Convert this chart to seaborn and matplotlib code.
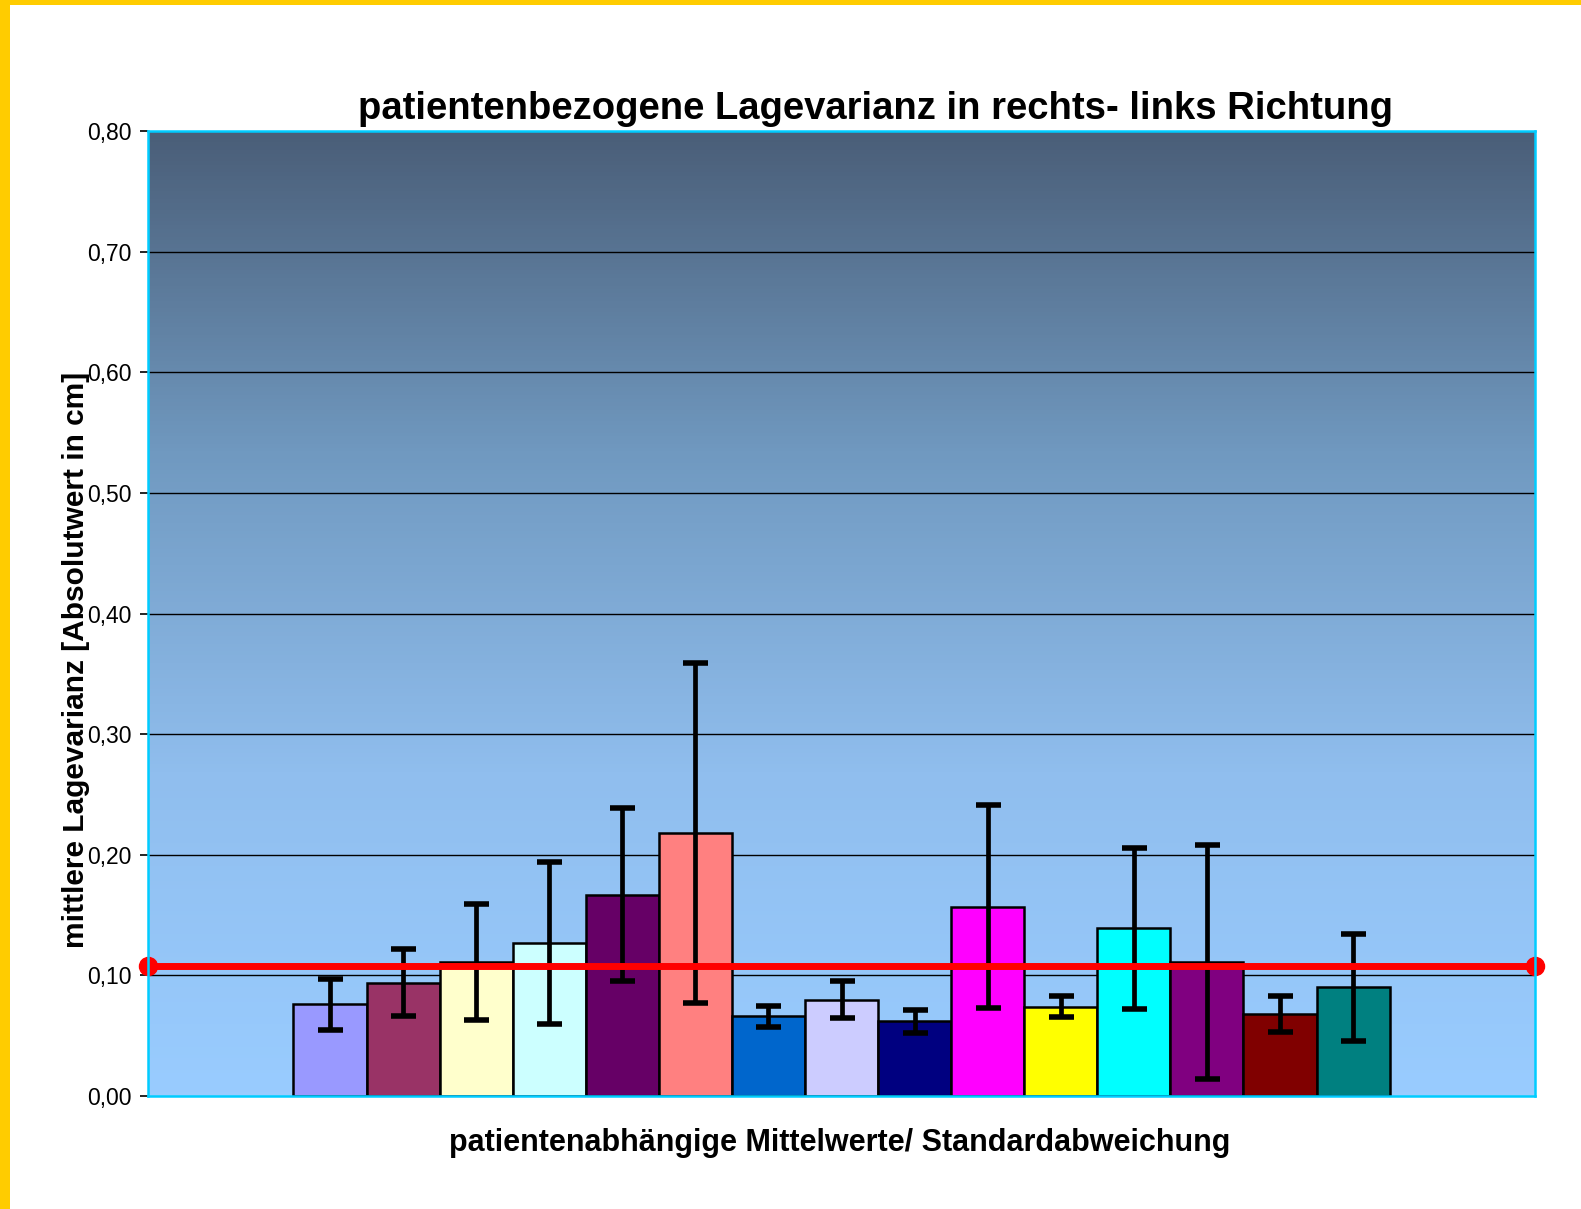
import numpy as np
import pandas as pd
import matplotlib
matplotlib.use("Agg")
import matplotlib.pyplot as plt
from matplotlib.colors import LinearSegmentedColormap
from matplotlib.patches import Rectangle
import seaborn as sns

# ---- data ----
patients = [f"P{i}" for i in range(1, 16)]
means = [0.076, 0.094, 0.111, 0.127, 0.167, 0.218, 0.066, 0.080, 0.062,
         0.157, 0.074, 0.139, 0.111, 0.068, 0.090]
sds = [0.021, 0.028, 0.048, 0.067, 0.072, 0.141, 0.009, 0.015, 0.0095,
       0.084, 0.0087, 0.067, 0.097, 0.015, 0.0445]
bar_colors = ["#9999FF", "#993366", "#FFFFCC", "#CCFFFF", "#660066", "#FF8080",
              "#0066CC", "#CCCCFF", "#000080", "#FF00FF", "#FFFF00", "#00FFFF",
              "#800080", "#800000", "#008080"]
overall_mean = 0.108
yticks = [0.0, 0.1, 0.2, 0.3, 0.4, 0.5, 0.6, 0.7, 0.8]

title = "patientenbezogene Lagevarianz in rechts- links Richtung"
xlabel = "patientenabhängige Mittelwerte/ Standardabweichung"
ylabel = "mittlere Lagevarianz [Absolutwert in cm]"

df = pd.DataFrame({"patient": patients, "mean": means, "sd": sds})

sns.set_theme(style="white")
plt.rcParams["font.family"] = ["Liberation Sans", "DejaVu Sans"]

fig = plt.figure(figsize=(15.81, 12.09), dpi=100)
fig.patch.set_facecolor("white")
ax = fig.add_axes([148 / 1581, 1 - 1096 / 1209, (1535 - 148) / 1581, (1096 - 131) / 1209])

xlim = (-2.49, 16.49)
ylim = (0.0, 0.8)

# gradient background
grad = np.linspace(0, 1, 256).reshape(-1, 1)
cmap = LinearSegmentedColormap.from_list("bg", ["#99CCFF", "#90BEEE", "#7099C0", "#4A5E78"])
ax.imshow(grad, cmap=cmap, extent=(xlim[0], xlim[1], ylim[0], ylim[1]),
          origin="lower", aspect="auto", zorder=0)

sns.barplot(data=df, x="patient", y="mean", hue="patient", palette=bar_colors,
            saturation=1, width=1.0, errorbar=None, legend=False,
            edgecolor="black", linewidth=1.8, ax=ax, zorder=3)

# error bars
xs = np.arange(len(patients))
ax.errorbar(xs, df["mean"], yerr=df["sd"], fmt="none", ecolor="black",
            elinewidth=3.4, capsize=9, capthick=4, zorder=5)

# overall mean line
ax.plot(list(xlim), [overall_mean, overall_mean], color="#FF0000", lw=5,
        marker="o", ms=13, clip_on=False, zorder=6)

ax.set_xlim(xlim)
ax.set_ylim(ylim)
ax.set_yticks(yticks)
ax.set_yticklabels([f"{v:.2f}".replace(".", ",") for v in yticks], fontsize=16.5)
ax.set_xticks([])
ax.set_xlabel("")
ax.set_ylabel("")
ax.grid(False)
for y in yticks[1:-1]:
    ax.axhline(y, color="black", lw=1.0, zorder=1)

ax.tick_params(axis="y", which="major", left=True, length=6, width=1.2,
               color="black", pad=6, labelcolor="black")
for s in ax.spines.values():
    s.set_color("#00CCFF")
    s.set_linewidth(1.8)
    s.set_zorder(7)

# texts
fig.text(875 / 1581, 1 - 109 / 1209, title, ha="center", va="center",
         fontsize=27.5, fontweight="bold", color="black")
fig.text(840 / 1581, 1 - 1143 / 1209, xlabel, ha="center", va="center",
         fontsize=22, fontweight="bold", color="black")
fig.text(76 / 1581, 1 - 660 / 1209, ylabel, ha="center", va="center",
         rotation=90, fontsize=21.5, fontweight="bold", color="black")

# yellow frame (left and top)
fig.patches.append(Rectangle((0, 0), 10 / 1581, 1, transform=fig.transFigure,
                             facecolor="#FFCC00", edgecolor="none", zorder=10))
fig.patches.append(Rectangle((0, 1 - 5 / 1209), 1, 5 / 1209, transform=fig.transFigure,
                             facecolor="#FFCC00", edgecolor="none", zorder=10))

fig.savefig("out.png", dpi=100)
